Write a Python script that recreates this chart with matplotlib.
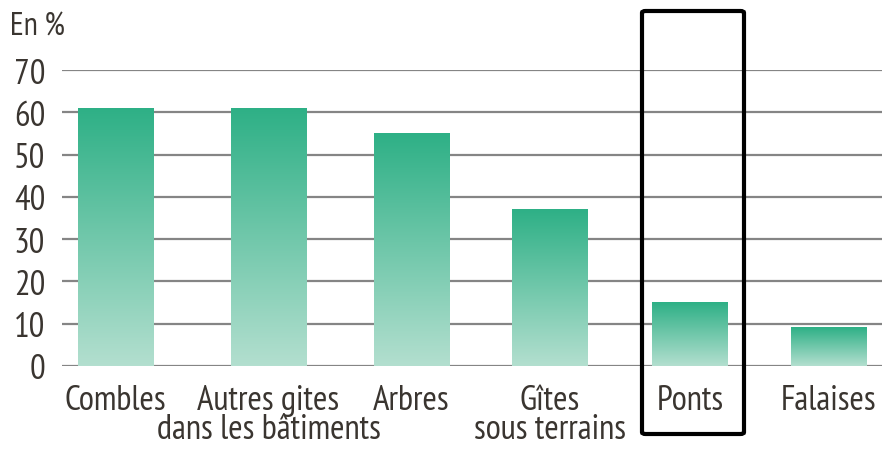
import numpy as np
import matplotlib
matplotlib.use('Agg')
import matplotlib.pyplot as plt
import matplotlib.patches as mpatches
from matplotlib.colors import LinearSegmentedColormap

plt.rcParams['font.family'] = ['PT Sans Narrow', 'Roboto Condensed',
                               'Fira Sans Condensed', 'DejaVu Sans']

# Data
categories = ['Combles', 'Autres gites\ndans les bâtiments', 'Arbres',
              'Gîtes\nsous terrains', 'Ponts', 'Falaises']
values = [61, 61, 55, 37, 15, 9]
yticks = [0, 10, 20, 30, 40, 50, 60, 70]
unit_label = 'En %'
highlight = 'Ponts'

# layout: column centres are not quite evenly spaced in the original
xpos = [0, 1.072, 2.074, 3.045, 4.026, 5.0]

TEXT = '#3a3530'
grad = LinearSegmentedColormap.from_list('g', ['#b3dfcf', '#2eb086'])

fig = plt.figure(figsize=(8.82, 4.52), dpi=100)
ax = fig.add_axes([62 / 882, 1 - 367 / 452, 1 - 62 / 882, (367 - 71) / 452])

width = 0.53
ramp = np.linspace(0, 1, 256).reshape(-1, 1)
for xi, v in zip(xpos, values):
    ax.imshow(ramp, extent=[xi - width / 2, xi + width / 2, 0, v],
              origin='lower', aspect='auto', cmap=grad, zorder=3,
              interpolation='bilinear')

ax.set_xlim(-0.375, 5.371)
ax.set_ylim(0, 70)

for t in yticks:
    ax.axhline(t, color='#858585', lw=1.6, zorder=1)

for s in ax.spines.values():
    s.set_visible(False)
ax.set_yticks(yticks)
ax.set_yticklabels([str(t) for t in yticks], fontsize=25, color=TEXT)
ax.tick_params(axis='y', length=0, pad=12)
ax.set_xticks(xpos)
ax.set_xticklabels(categories, fontsize=25, color=TEXT, linespacing=0.86)
ax.tick_params(axis='x', length=0, pad=13)

fig.text(10 / 882, 1 - 28 / 452, unit_label, fontsize=23, color=TEXT,
         ha='left', va='center')

# Highlight box round the "Ponts" column
hi = categories.index(highlight)
rect = mpatches.FancyBboxPatch((642 / 882, 1 - 435 / 452), 102 / 882, 423 / 452,
                               boxstyle='round,pad=0,rounding_size=0.004',
                               transform=fig.transFigure, fill=False,
                               ec='black', lw=3, zorder=10)
fig.patches.append(rect)

fig.savefig('out.png', dpi=100)
